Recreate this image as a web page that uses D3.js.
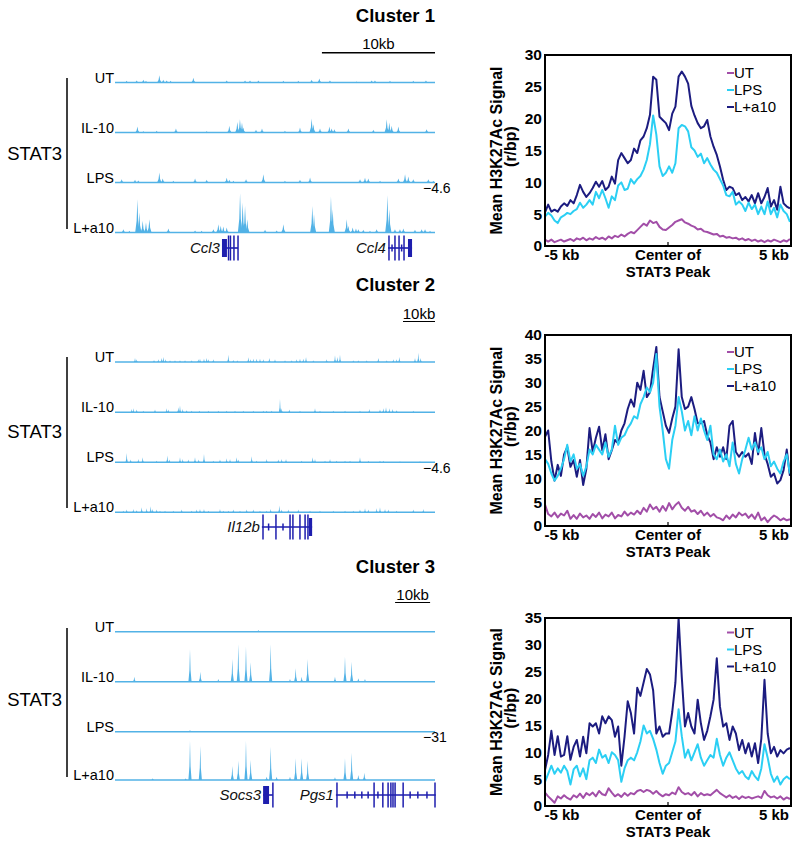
<!DOCTYPE html>
<html><head><meta charset="utf-8">
<script src="https://cdn.jsdelivr.net/npm/d3@7"></script>
<style>body{margin:0;background:#fff}svg{display:block}</style>
</head><body><svg id="fig" width="800" height="844"></svg>
<script>
// ---------------- DATA ----------------
const clusterTitles = ["Cluster 1", "Cluster 2", "Cluster 3"];
const trackNames = ["UT", "IL-10", "LPS", "L+a10"];
const regionKb = [28.3, 100, 91.4];      // width of each browser window (kb)
const trackMax = [4.6, 4.6, 31];          // data range of the tracks
const trackMaxLabels = ["\u22124.6", "\u22124.6", "\u221231"];
const scaleBarKb = [[18.3, 28.3], [90, 100], [80, 90]];

// peaks: [position kb, signal]
const c1UT = [[1.03,0.17],[1.92,0.21],[2.51,0.28],[2.74,0.17],[3.92,0.77],[4.27,0.28],[4.57,0.21],[4.92,0.17],[6.93,0.49],[9.88,0.21],[11.5,0.21],[11.94,0.21],[12.68,0.21],[14.89,0.17],[16.21,0.17],[17.39,0.28],[18.07,0.42],[19.01,0.21],[21.37,0.1],[22.7,0.21],[22.99,0.21],[24.32,0.17],[26.38,0.17],[27.5,0.21]];
const c1IL10 = [[1.98,0.63],[2.51,0.14],[3.69,0.17],[5.39,0.42],[8.11,0.14],[10.11,0.7],[10.82,1.11],[11.05,1.39],[11.23,1.04],[11.35,0.52],[12.47,0.28],[13.0,0.42],[15.03,0.17],[16.36,0.52],[17.39,1.46],[17.54,0.87],[18.13,0.42],[18.96,0.63],[19.16,0.42],[19.4,0.35],[20.64,0.42],[22.85,0.28],[24.03,1.39],[24.26,1.04],[24.47,0.7],[25.06,0.63],[27.56,0.35]];
const c1LPS = [[0.59,0.35],[1.77,0.28],[2.06,0.21],[3.92,1.04],[4.22,0.42],[5.16,0.17],[7.08,0.42],[8.11,0.28],[9.88,0.49],[10.11,0.28],[10.47,0.17],[11.59,0.35],[13.12,0.87],[15.03,0.17],[16.36,0.28],[17.25,0.52],[21.67,0.35],[22.11,0.49],[22.4,0.42],[23.44,0.17],[25.06,0.42],[25.65,0.87],[25.94,0.63],[26.38,0.35],[27.71,0.35],[28.15,0.17]];
const c1La10 = [[0.74,0.35],[1.27,0.17],[1.98,3.48],[2.15,2.09],[2.45,1.22],[2.74,1.04],[3.04,1.39],[4.72,0.42],[7.08,0.21],[7.66,0.17],[8.7,0.35],[9.14,0.87],[9.35,0.7],[9.58,0.63],[9.88,0.52],[11.06,4.11],[11.29,3.13],[11.5,2.78],[11.7,1.39],[13.27,0.28],[14.3,0.21],[14.89,0.87],[17.45,2.78],[17.6,1.91],[19.1,3.76],[19.25,2.44],[20.49,1.39],[20.64,0.7],[21.02,0.52],[21.31,0.42],[21.52,0.35],[21.96,0.28],[22.55,0.17],[23.14,0.35],[24.09,3.9],[24.26,2.44],[24.76,0.35],[25.2,0.35],[25.5,0.42],[26.53,0.28],[27.12,0.35],[27.42,0.35],[27.86,0.17]];

const c2UT = [[6.25,0.42],[6.77,0.28],[12.19,0.21],[13.54,0.28],[14.58,0.42],[15.1,0.52],[15.83,0.28],[17.19,0.17],[18.75,0.17],[20.31,0.17],[21.88,0.17],[23.96,0.17],[26.04,0.28],[26.56,0.35],[27.81,0.35],[28.65,0.42],[29.17,0.28],[30.73,0.28],[35.42,0.77],[36.98,0.21],[38.23,0.17],[41.67,0.49],[42.4,0.28],[43.23,0.35],[44.27,0.35],[45.31,0.35],[46.35,0.28],[48.23,0.42],[50.0,0.28],[53.13,0.17],[55.21,0.17],[56.77,0.28],[57.81,0.35],[58.85,0.35],[59.69,0.52],[61.98,0.17],[66.15,0.28],[68.75,0.7],[69.48,0.52],[70.31,0.77],[74.48,0.17],[76.04,0.17],[78.65,0.17],[82.29,0.42],[84.9,0.17],[86.98,0.28],[88.02,0.28],[88.85,0.52],[93.75,0.42],[94.79,0.97],[95.52,0.42]];
const c2IL10 = [[5.21,0.35],[5.73,0.42],[6.77,0.28],[8.85,0.17],[12.5,0.28],[16.15,0.42],[16.67,0.28],[19.79,0.52],[20.31,0.7],[21.15,0.35],[22.4,0.21],[23.96,0.17],[26.35,0.17],[29.17,0.17],[32.29,0.17],[34.9,0.17],[37.5,0.17],[40.1,0.17],[43.23,0.17],[46.35,0.17],[47.4,0.17],[48.96,0.17],[51.56,1.39],[52.08,0.42],[54.48,0.28],[57.81,0.17],[62.5,0.42],[64.06,0.17],[68.23,0.17],[71.88,0.17],[76.56,0.17],[79.48,0.35],[82.81,0.28],[83.85,0.42],[84.69,0.52],[85.73,0.42],[86.77,0.35],[88.02,0.21],[93.23,0.17]];
const c2LPS = [[3.65,0.97],[4.9,0.28],[7.29,0.35],[8.65,0.52],[13.02,0.17],[16.35,0.7],[16.98,0.28],[20.31,0.52],[21.15,0.35],[22.92,0.28],[25.0,0.52],[26.15,0.28],[27.81,0.87],[30.73,0.17],[32.81,0.28],[34.9,0.42],[35.94,0.35],[38.02,0.52],[38.54,0.28],[42.71,0.63],[44.27,0.17],[47.4,0.35],[51.04,0.28],[52.08,0.35],[53.44,0.35],[58.33,0.17],[61.77,0.52],[62.5,0.35],[65.63,0.17],[67.19,0.35],[69.27,0.17],[71.88,0.17],[73.44,0.17],[76.56,0.52],[79.17,0.17],[82.81,0.17],[83.85,0.17],[89.06,0.1],[95.31,0.1]];
const c2La10 = [[2.6,0.17],[3.65,0.28],[5.73,0.35],[6.77,0.21],[8.33,0.52],[9.9,0.42],[11.15,0.63],[11.77,0.35],[13.02,0.28],[14.06,0.17],[15.63,0.17],[18.23,0.17],[20.83,0.28],[23.96,0.17],[25.52,0.28],[26.56,0.35],[27.81,0.35],[29.17,0.17],[32.81,0.35],[33.85,0.17],[35.42,0.17],[36.98,0.28],[39.06,0.17],[41.15,0.28],[43.23,0.28],[45.31,0.17],[47.4,0.17],[48.65,0.35],[51.35,0.7],[52.08,0.28],[54.17,0.28],[57.29,0.28],[60.94,0.17],[64.06,0.17],[68.23,0.17],[71.88,0.17],[74.48,0.17],[76.56,0.28],[78.13,0.42],[79.17,0.28],[81.77,0.42],[82.81,0.52],[84.38,0.35],[85.42,0.28],[88.02,0.17],[93.23,0.28],[96.35,0.35]];

const c3UT = [[40.94,1.17]];
const c3IL10 = [[5.52,3.52],[21.42,22.8],[24.37,7.04],[29.51,1.88],[33.51,15.97],[35.22,26.3],[37.41,24.65],[38.75,13.62],[44.46,26.3],[49.98,1.88],[51.6,9.39],[53.31,3.52],[55.03,15.97],[62.83,3.52],[65.69,17.61],[67.59,14.09],[69.5,2.35],[71.4,1.88]];
const c3LPS = [[21.42,1.17]];
const c3La10 = [[10.76,1.17],[20.18,1.17],[21.42,27.7],[24.37,23.95],[33.51,9.86],[35.22,13.62],[37.41,27.7],[38.75,14.09],[43.32,2.35],[44.46,23.48],[46.17,2.35],[49.98,2.35],[51.6,15.26],[53.31,15.26],[55.03,13.62],[62.83,1.88],[65.69,15.26],[67.59,19.25],[69.5,3.52],[71.21,5.17]];

// gene models (kb)
const genes1 = [
  {name:"Ccl3", start:9.46, end:10.88, thick:[[9.46,9.9]], thin:[10.04,10.21,10.52,10.88], ticks:[]},
  {name:"Ccl4", start:24.14, end:26.27, thick:[[25.91,26.27]], thin:[24.23,24.76,25.12,25.56], ticks:[24.5,25.35]}
];
const genes2 = [
  {name:"Il12b", start:45.9, end:61.6, thick:[[60.6,61.6]], thin:[46.25,50.3,54.7,55.6,57.8,59.4,60.3], ticks:[48.0,52.5]}
];
const genes3 = [
  {name:"Socs3", start:42.3, end:45.1, thick:[[42.3,44.0]], thin:[45.1], ticks:[]},
  {name:"Pgs1", start:63.1, end:91.6, thick:[], thin:[63.4,74.0,76.5,78.0,78.8,79.4,80.0,82.3,91.4], ticks:[66.3,68.5,70.5,72.3,75.1,84.3,86.5,89.1]}
];

// aggregate profiles (kb bins from -5.8 in 0.15 kb steps)
const profileStartKb = -5.8, profileStepKb = 0.15;
const p1UT = [1.0,0.7,1.0,0.6,0.8,1.0,0.7,0.9,1.1,0.8,1.2,1.0,1.3,0.9,1.2,1.0,1.4,1.1,1.3,1.0,1.5,1.2,1.6,1.4,1.8,1.5,1.9,2.2,2.0,2.5,3.0,3.5,3.2,4.0,3.6,3.8,3.0,2.6,2.5,2.9,3.3,3.8,4.0,4.2,3.7,3.5,3.2,3.0,2.6,2.7,2.3,2.2,2.0,1.8,1.9,1.5,1.6,1.3,1.4,1.2,1.3,1.0,1.2,0.9,1.1,0.8,1.0,0.7,0.9,0.6,0.9,0.7,1.0,0.8,0.6,0.9,0.7,1.1];
const p1LPS = [4.6,5.2,4.8,4.0,3.6,4.5,4.8,5.2,5.0,5.5,5.8,6.8,6.0,6.5,7.2,6.5,8.5,7.5,8.8,7.5,6.0,7.8,7.2,9.5,10.0,8.8,9.0,10.5,9.8,10.5,11.0,12.0,13.5,16.0,20.5,17.5,12.5,11.0,11.5,12.5,11.5,13.0,18.5,19.0,18.8,18.0,15.5,15.0,14.0,14.5,13.0,13.8,12.8,12.0,11.5,10.5,9.5,8.0,7.8,8.5,6.5,7.0,6.5,5.5,6.8,5.8,6.5,5.0,6.2,5.0,7.0,5.0,6.0,4.5,6.5,5.5,5.0,3.8];
const p1La10 = [5.3,6.5,5.4,5.7,5.4,6.2,6.7,6.3,7.2,6.7,8.0,9.6,8.5,7.7,8.3,9.1,10.1,9.3,10.2,8.8,9.3,10.9,9.8,13.5,14.6,13.8,13.0,13.5,15.3,14.6,16.6,17.2,18.5,20.6,26.6,26.1,20.3,19.8,19.3,18.2,20.8,21.9,26.6,27.4,26.6,25.5,22.0,20.5,19.3,18.5,18.8,19.8,17.2,15.6,14.3,12.5,10.4,8.8,9.3,9.1,8.0,8.3,7.2,7.7,7.0,8.0,6.7,8.3,6.7,7.7,9.1,6.2,7.2,5.7,9.3,6.7,6.2,5.9];
const p2UT = [4.5,2.5,2.0,2.8,1.8,2.6,2.2,3.2,1.5,2.3,1.5,2.6,1.8,2.2,1.5,2.5,1.9,2.8,1.6,2.4,2.0,2.8,1.6,2.3,2.0,3.0,2.2,2.8,2.4,3.2,2.5,3.8,3.0,4.5,3.5,4.0,3.0,4.2,3.2,4.8,3.5,4.4,5.0,3.8,3.2,4.0,3.0,3.3,2.5,3.2,2.2,2.8,2.0,2.5,1.8,1.6,1.2,2.2,1.5,2.4,1.8,2.8,2.2,2.6,1.7,2.4,1.5,2.8,1.2,1.8,0.8,1.6,2.2,1.8,1.2,1.6,1.2,1.4];
const p2LPS = [14.0,13.0,11.0,9.5,10.5,12.0,14.0,17.0,13.5,15.0,12.0,13.0,10.5,12.5,16.0,15.0,17.0,16.0,15.0,17.5,14.5,16.0,21.0,17.0,18.5,19.0,20.5,21.5,23.0,22.5,25.5,27.0,29.0,28.0,30.0,36.0,25.0,20.0,14.0,12.0,18.0,21.0,27.0,24.0,20.0,22.0,19.0,23.0,20.0,22.5,20.0,18.0,21.0,15.0,14.0,16.0,13.5,15.0,12.5,17.5,13.0,11.0,14.0,16.0,18.5,16.0,17.5,15.5,16.5,14.0,15.5,12.5,13.5,12.0,11.0,13.5,15.0,11.0];
const p2La10 = [18.7,20.0,13.5,9.5,12.8,10.5,15.0,16.5,12.4,13.8,10.3,13.8,8.6,12.0,20.5,15.5,18.5,20.8,15.9,19.2,14.0,15.9,18.0,17.3,20.0,21.5,24.5,26.5,25.0,30.0,28.5,32.5,27.0,28.0,33.0,37.5,27.0,24.0,21.0,19.5,22.5,25.0,37.0,27.0,24.5,25.0,27.0,24.5,21.5,21.5,22.0,19.0,17.5,14.0,16.5,14.5,16.5,14.0,21.0,22.0,15.5,14.5,15.5,14.5,15.2,13.0,19.5,15.0,20.5,15.0,13.0,10.3,11.0,8.9,9.6,11.7,16.0,10.5];
const p3UT = [2.5,1.8,1.2,0.6,1.8,1.4,2.0,1.5,1.2,2.0,1.6,2.3,1.5,2.4,2.0,2.5,1.8,2.8,2.2,2.0,3.3,2.5,1.8,2.2,1.7,2.4,1.9,2.4,2.2,2.8,3.0,2.6,3.0,2.8,2.3,2.8,2.2,1.8,2.2,2.0,2.5,2.2,3.5,2.6,2.2,2.4,2.0,2.6,1.8,2.4,2.0,2.2,2.0,2.5,3.0,2.4,2.0,1.6,2.0,1.5,1.8,1.3,1.8,1.5,1.7,1.4,1.6,1.8,1.5,2.8,2.0,1.6,1.8,1.4,1.8,1.2,1.6,1.3];
const p3LPS = [4.5,6.0,7.5,6.0,7.0,6.2,7.5,6.5,4.0,6.8,7.5,5.5,7.0,5.0,8.5,9.0,8.0,10.5,9.0,9.5,8.0,10.0,9.5,8.5,4.5,7.0,8.5,9.0,8.5,10.0,12.0,15.0,13.5,14.0,12.5,10.5,8.0,6.0,7.5,8.0,10.0,12.0,18.0,13.0,9.0,10.5,8.5,10.0,11.5,9.0,7.5,8.5,9.5,9.0,12.5,9.5,7.5,9.0,10.0,8.5,7.0,6.0,6.5,5.5,5.0,6.5,5.5,4.8,7.0,11.5,9.0,6.0,4.5,5.5,4.0,5.0,5.5,5.0];
const p3La10 = [6.7,9.5,14.0,9.5,13.0,9.2,9.5,13.0,8.6,11.0,12.3,9.2,12.9,9.8,15.4,14.8,15.4,13.5,16.7,15.4,16.7,16.0,12.9,14.8,7.5,12.9,19.5,17.3,13.5,22.0,20.5,23.0,25.5,24.5,21.5,13.5,14.8,12.9,13.5,13.5,17.5,23.0,35.0,24.0,14.8,17.3,14.8,13.5,19.8,15.4,12.3,14.0,16.7,19.8,27.5,18.5,14.8,15.4,12.3,14.8,13.5,10.4,12.3,9.8,11.7,9.2,11.7,8.0,12.5,23.5,13.5,9.8,11.0,9.2,10.4,9.8,10.5,10.8];
const profileSeries = ["UT", "LPS", "L+a10"];
const profileMax = [30, 40, 35];
const xTickLabels = ["-5 kb", "Center of", "5 kb"];
const yTitle = "Mean H3K27Ac Signal";
const yUnit = "(r/bp)";

// ---------------- STYLE / LAYOUT ----------------
const FONT = '"Liberation Sans", Arial, Helvetica, sans-serif';
const trackColor = "#52b2e6";
const geneColor = "#1e1eae";
const lineColor = {"UT": "#a24ea8", "LPS": "#2bcff4", "L+a10": "#1c1c80"};

const leftLayout = [
  {titleY:22, bar:{y:52.7, textY:48.5, under:false}, base:[82.5,132.5,182.5,232.5], vline:[78,229], statY:160, maxY:188, geneY:248, hw:2.2},
  {titleY:291, bar:{y:321.5, textY:318.5, under:true}, base:[362,412.3,462.3,512.3], vline:[357,508], statY:438, maxY:468, geneY:527, hw:1.2},
  {titleY:573, bar:{y:602.5, textY:599.5, under:true}, base:[631.7,681.7,731.7,780], vline:[628,777], statY:706, maxY:737, geneY:795, hw:1.6}
];
const rightLayout = [
  {top:55, bottom:246, leg:[73,90,107]},
  {top:335, bottom:526, leg:[352,369,386]},
  {top:618, bottom:806, leg:[632.5,649.5,666.5]}
];

const svg = d3.select("#fig").style("font-family", FONT);

const allTracks = [[c1UT,c1IL10,c1LPS,c1La10],[c2UT,c2IL10,c2LPS,c2La10],[c3UT,c3IL10,c3LPS,c3La10]];
const allGenes = [genes1, genes2, genes3];
const allProfiles = [[p1UT,p1LPS,p1La10],[p2UT,p2LPS,p2La10],[p3UT,p3LPS,p3La10]];

// ---------------- LEFT: browser tracks ----------------
allTracks.forEach((tracks, ci) => {
  const L = leftLayout[ci];
  const g = svg.append("g");
  const x = d3.scaleLinear().domain([0, regionKb[ci]]).range([115, 435]);
  const h = d3.scaleLinear().domain([0, trackMax[ci]]).range([0, 44]);

  g.append("text").attr("x", 435).attr("y", L.titleY).attr("text-anchor", "end")
    .attr("font-weight", "bold").attr("font-size", 18.5).text(clusterTitles[ci]);

  // scale bar
  const [b0, b1] = scaleBarKb[ci];
  g.append("line").attr("x1", x(b0)).attr("x2", x(b1)).attr("y1", L.bar.y).attr("y2", L.bar.y)
    .attr("stroke", "#000").attr("stroke-width", L.bar.under ? 1 : 1.4);
  g.append("text").attr("x", (x(b0) + x(b1)) / 2).attr("y", L.bar.textY).attr("text-anchor", "middle")
    .attr("font-size", 15).text("10kb");

  // STAT3 bracket
  g.append("line").attr("x1", 67).attr("x2", 67).attr("y1", L.vline[0]).attr("y2", L.vline[1])
    .attr("stroke", "#000").attr("stroke-width", 1.5);
  g.append("text").attr("x", 62).attr("y", L.statY).attr("text-anchor", "end")
    .attr("font-size", 18.5).text("STAT3");

  tracks.forEach((peaks, ti) => {
    const base = L.base[ti];
    const w = L.hw;
    g.append("g").selectAll("path").data(peaks).join("path")
      .attr("d", d => {
        const cx = x(d[0]), hh = h(d[1]);
        return `M${cx - w},${base}L${cx - w * 0.35},${base - hh * 0.35}L${cx},${base - hh}L${cx + w * 0.35},${base - hh * 0.35}L${cx + w},${base}Z`;
      })
      .attr("fill", trackColor);
    g.append("line").attr("x1", x(0)).attr("x2", x(regionKb[ci])).attr("y1", base).attr("y2", base)
      .attr("stroke", trackColor).attr("stroke-width", 1.6);
    g.append("text").attr("x", 114).attr("y", base).attr("text-anchor", "end")
      .attr("font-size", 14.5).text(trackNames[ti]);
  });

  g.append("text").attr("x", 423).attr("y", L.maxY + 5).attr("font-size", 14).text(trackMaxLabels[ci]);

  // genes
  const gy = L.geneY;
  allGenes[ci].forEach(gene => {
    const gg = g.append("g").attr("fill", geneColor).attr("stroke", geneColor);
    gg.append("line").attr("x1", x(gene.start)).attr("x2", x(gene.end)).attr("y1", gy).attr("y2", gy).attr("stroke-width", 1.6);
    gg.selectAll("rect.t").data(gene.thick).join("rect")
      .attr("x", d => x(d[0])).attr("width", d => Math.max(1.5, x(d[1]) - x(d[0])))
      .attr("y", gy - 9).attr("height", 18).attr("stroke", "none");
    gg.selectAll("line.e").data(gene.thin).join("line")
      .attr("x1", d => x(d)).attr("x2", d => x(d)).attr("y1", gy - 12.5).attr("y2", gy + 12.5).attr("stroke-width", 1.5);
    gg.selectAll("line.k").data(gene.ticks).join("line")
      .attr("x1", d => x(d)).attr("x2", d => x(d)).attr("y1", gy - 3.5).attr("y2", gy + 3.5).attr("stroke-width", 1.5);
    g.append("text").attr("x", x(gene.start) - 2).attr("y", gy + 5).attr("text-anchor", "end")
      .attr("font-style", "italic").attr("font-size", 15).attr("fill", "#111").text(gene.name);
  });
});

// ---------------- RIGHT: aggregate profiles ----------------
allProfiles.forEach((series, ci) => {
  const R = rightLayout[ci];
  const g = svg.append("g");
  const x = d3.scaleLinear().domain([-5.8, 5.8]).range([545, 791]);
  const y = d3.scaleLinear().domain([0, profileMax[ci]]).range([R.bottom, R.top]);
  const clipId = "clip" + ci;
  g.append("clipPath").attr("id", clipId).append("rect")
    .attr("x", 545).attr("y", R.top).attr("width", 246).attr("height", R.bottom - R.top);

  const line = d3.line().x((d, i) => x(profileStartKb + profileStepKb * i)).y(d => y(d));
  const order = [2, 1, 0];
  const lg = g.append("g").attr("clip-path", `url(#${clipId})`);
  order.forEach(si => {
    lg.append("path").datum(series[si]).attr("d", line).attr("fill", "none")
      .attr("stroke", lineColor[profileSeries[si]]).attr("stroke-width", 2).attr("stroke-linejoin", "round");
  });

  g.append("rect").attr("x", 545).attr("y", R.top).attr("width", 246).attr("height", R.bottom - R.top)
    .attr("fill", "none").attr("stroke", "#000").attr("stroke-width", 2);

  const ya = d3.axisLeft(y).tickValues(d3.range(0, profileMax[ci] + 1, 5)).tickSize(0).tickPadding(3);
  const yg = g.append("g").attr("transform", "translate(545,0)").call(ya);
  yg.select(".domain").remove();
  yg.selectAll("text").attr("font-family", FONT).attr("font-size", 15.5).attr("font-weight", "bold").attr("fill", "#000");

  // x ticks
  g.append("line").attr("x1", x(0)).attr("x2", x(0)).attr("y1", R.bottom).attr("y2", R.bottom - 4)
    .attr("stroke", "#000").attr("stroke-width", 1.2);
  const xl = [-5, 0, 5];
  g.selectAll("text.xl").data(xl).join("text")
    .attr("x", d => x(d)).attr("y", R.bottom + 14).attr("text-anchor", "middle")
    .attr("font-size", 15).attr("font-weight", "bold").text((d, i) => xTickLabels[i]);
  g.append("text").attr("x", x(0)).attr("y", R.bottom + 31).attr("text-anchor", "middle")
    .attr("font-size", 15).attr("font-weight", "bold").text("STAT3 Peak");

  const cy = (R.top + R.bottom) / 2;
  g.append("text").attr("transform", `translate(502,${cy}) rotate(-90)`).attr("text-anchor", "middle")
    .attr("font-size", 16).attr("font-weight", "bold").text(yTitle);
  g.append("text").attr("transform", `translate(516,${cy - 4}) rotate(-90)`).attr("text-anchor", "middle")
    .attr("font-size", 16).attr("font-weight", "bold").text(yUnit);

  // legend
  profileSeries.forEach((s, si) => {
    const ly = R.leg[si];
    g.append("line").attr("x1", 727).attr("x2", 734).attr("y1", ly).attr("y2", ly)
      .attr("stroke", lineColor[s]).attr("stroke-width", 2);
    g.append("text").attr("x", 734).attr("y", ly).attr("dy", "0.36em").attr("font-size", 15).text(s);
  });
});
</script></body></html>
